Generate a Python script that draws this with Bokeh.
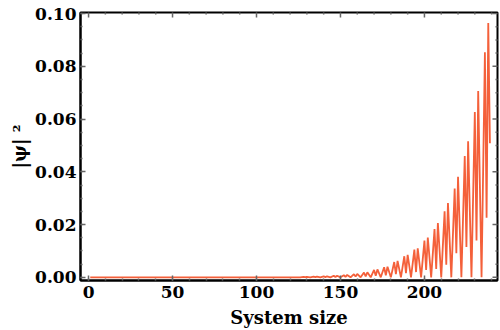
import math
from bokeh.plotting import figure
from bokeh.models import LinearAxis, Range1d, SingleIntervalTicker, ColumnDataSource
from bokeh.embed import file_html
from bokeh.resources import INLINE

# Values: each 6-site period has peak A (site p), a dip (p+1),
# peak B (p+2) and a near-zero minimum (p+4).
period_start = [128, 134, 140, 146, 152, 158, 164, 170, 176, 182, 188, 194,
                200, 206, 212, 218, 224, 230, 236]
peak_a = [0.0002, 0.0003, 0.0004, 0.0006, 0.0008, 0.0012, 0.0018, 0.0028, 0.0038,
          0.0058, 0.0080, 0.0105, 0.0139, 0.0183, 0.0250, 0.0337, 0.0460, 0.0627, 0.0853]
mid_dip = [0.0001, 0.0001, 0.0001, 0.0001, 0.0002, 0.0003, 0.0004, 0.0006, 0.0008,
           0.0012, 0.0016, 0.0020, 0.0028, 0.0032, 0.0048, 0.0091, 0.0115, 0.0140, 0.0226]
peak_b = [0.0002, 0.0003, 0.0004, 0.0006, 0.0009, 0.0013, 0.0019, 0.0030, 0.0040,
          0.0062, 0.0085, 0.0110, 0.0151, 0.0206, 0.0282, 0.0381, 0.0516, 0.0706, 0.0964]
low_value = [0.0, 0.0, 0.0, 0.0, 0.0, 0.0, 0.0, 0.0, 0.0, 0.0, 0.0, 0.0,
             0.0, 0.0, 0.0, 0.0, 0.0, 0.0]
flat_sites = [1, 126]
flat_values = [0.0, 0.0]
last_site = 239
last_value = 0.0508

x_ticks = [0, 50, 100, 150, 200]
y_ticks = [0.00, 0.02, 0.04, 0.06, 0.08, 0.10]
x_minor_step = 10
y_minor_step = 0.005

X0, X1 = -4.8, 243.5
Y0, Y1 = -0.0012, 0.1004

xs = list(flat_sites)
ys = list(flat_values)
for i, p0 in enumerate(period_start):
    xs += [p0, p0 + 1, p0 + 2]
    ys += [peak_a[i], mid_dip[i], peak_b[i]]
    if i < len(low_value):
        xs.append(p0 + 4)
        ys.append(low_value[i])
xs.append(last_site)
ys.append(last_value)

src = ColumnDataSource(dict(x=xs, y=ys))

FONT = "DejaVu Serif"
TICK_COLOR = "#666666"

p = figure(width=500, height=330, output_backend="svg", toolbar_location=None,
           x_range=Range1d(X0, X1), y_range=Range1d(Y0, Y1),
           x_axis_location=None, y_axis_location=None,
           min_border_left=80, min_border_right=3, min_border_top=12, min_border_bottom=10)
p.background_fill_color = "white"
p.border_fill_color = "white"
p.grid.visible = False
p.outline_line_color = "black"
p.outline_line_width = 2

p.line("x", "y", source=src, line_color="#F4603A", line_width=1.8)


def style(ax):
    ax.axis_line_color = "black"
    ax.axis_line_width = 2
    ax.major_tick_in = 5
    ax.major_tick_out = 0
    ax.minor_tick_in = 2
    ax.minor_tick_out = 0
    ax.major_tick_line_color = TICK_COLOR
    ax.minor_tick_line_color = TICK_COLOR
    ax.major_tick_line_width = 1.5
    ax.minor_tick_line_width = 1.5
    ax.major_label_text_font = FONT
    ax.major_label_text_font_style = "bold"
    ax.major_label_text_font_size = "17px"
    ax.major_label_text_color = "black"
    ax.axis_label_text_font = FONT
    ax.axis_label_text_font_style = "bold"
    ax.axis_label_text_font_size = "18px"
    ax.axis_label_text_color = "black"


bottom = LinearAxis(ticker=SingleIntervalTicker(interval=50, num_minor_ticks=5),
                    axis_label="System size")
style(bottom)
bottom.major_label_standoff = 5
bottom.axis_label_standoff = 6
bottom.major_label_overrides = {v: str(v) for v in x_ticks}
p.add_layout(bottom, "below")

left = LinearAxis(ticker=SingleIntervalTicker(interval=0.02, num_minor_ticks=4),
                  axis_label="|ψ| ²")
style(left)
left.major_label_standoff = 4
left.axis_label_standoff = 2
left.major_label_overrides = {v: f"{v:.2f}" for v in y_ticks}
p.add_layout(left, "left")

# inward ticks on the top and right frame edges (clipped to the frame)
x_minor = [v * x_minor_step for v in range(int(X0 // x_minor_step) + 1, int(X1 // x_minor_step) + 1)]
x_minor = [v for v in x_minor if v not in x_ticks]
y_minor = [round(v * y_minor_step, 4) for v in range(0, int(Y1 / y_minor_step) + 1)]
y_minor = [v for v in y_minor if min(abs(v - t) for t in y_ticks) > 1e-9]

p.scatter(x_ticks, [Y1] * len(x_ticks), marker="dash", size=10, angle=math.pi / 2,
          line_color=TICK_COLOR, line_width=1.5)
p.scatter(x_minor, [Y1] * len(x_minor), marker="dash", size=4, angle=math.pi / 2,
          line_color=TICK_COLOR, line_width=1.5)
p.scatter([X1] * len(y_ticks), y_ticks, marker="dash", size=10,
          line_color=TICK_COLOR, line_width=1.5)
p.scatter([X1] * len(y_minor), y_minor, marker="dash", size=4,
          line_color=TICK_COLOR, line_width=1.5)

open("out.html", "w").write(file_html(p, INLINE))
